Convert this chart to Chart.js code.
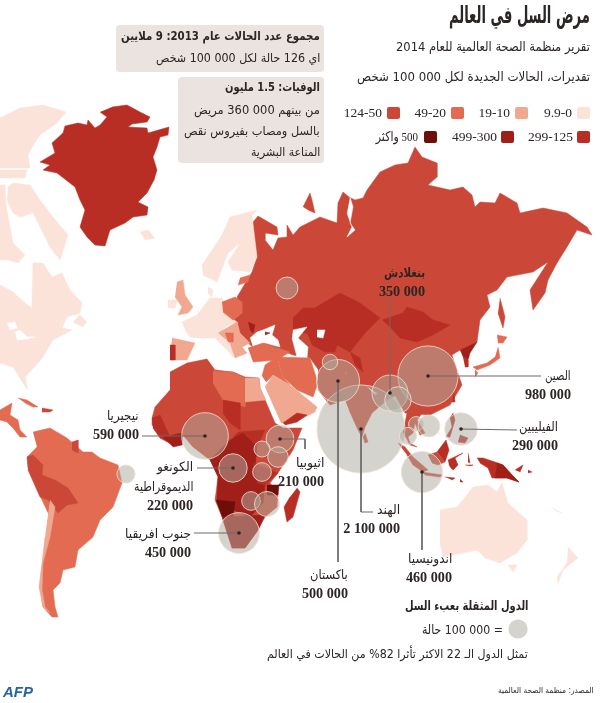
<!DOCTYPE html>
<html lang="ar">
<head>
<meta charset="utf-8">
<script src="https://cdn.jsdelivr.net/npm/chart.js@4"></script>
<style>
  html, body { margin: 0; padding: 0; background: #fff; }
  #page { position: relative; width: 600px; height: 703px; overflow: hidden; font-family: "DejaVu Sans", "Liberation Serif", sans-serif; color: #2b2523; }
  canvas { position: absolute; left: 0; top: 0; }
  .t { position: absolute; white-space: nowrap; direction: rtl; transform: translateY(-50%); transform-origin: right center; line-height: 1; }
  .num { font-family: "Liberation Serif", serif; font-weight: bold; font-size: 14.2px; }
  .box { position: absolute; background: #eae3df; border-radius: 4px; }
  .sw { position: absolute; width: 13px; height: 12px; border-radius: 2px; }
</style>
</head>
<body>
<div id="page"><canvas id="chart" width="600" height="703"></canvas></div>
<script>
// fourchettes de la légende
const c0 = '#fbe3da', c10 = '#f0a890', c20 = '#e26b52', c50 = '#cb4838', c125 = '#b92e24', c300 = '#a01f18', c500 = '#6e0e08';
const legendLabels = ['9.9-0', '19-10', '49-20', '124-50', '299-125', '499-300', '500 واكثر'];
const legendColors = [c0, c10, c20, c50, c125, c300, c500];

// pays à forte charge, cas
const bubbleNames = ['China', 'India', 'Pakistan', 'Bangladesh', 'Myanmar', 'Afghanistan', 'Cambodia', 'Vietnam', 'Thailand', 'Philippines', 'Indonesia', 'Russia', 'Brazil', 'Nigeria', 'DR Congo', 'Ethiopia', 'Uganda', 'Tanzania', 'Kenya', 'Zimbabwe', 'Mozambique', 'South Africa'];
const cases = [980000, 2100000, 500000, 350000, 190000, 65000, 60000, 130000, 80000, 290000, 460000, 130000, 90000, 590000, 220000, 210000, 70000, 95000, 115000, 95000, 170000, 450000];
const bubbleLon = [428, 361, 338, 390, 398, 330, 416, 429, 408, 461, 422, 287, 126, 205, 233, 280, 262, 262, 278, 251, 267, 239];
const bubbleLat = [376, 429, 381, 393, 400, 362, 424, 426, 436, 429, 472, 288, 474, 436, 468, 439, 449, 472, 457, 501, 504, 533];
const keyCases = [100000];
const keyLon = [518];
const keyLat = [629];

// carte, en unités de la grille
const canadaArctic = [[0,118],[20,108],[43,105],[66,112],[57,123],[40,135],[33,145],[28,155],[30,168],[0,168]];
const canadaStrip = [[0,170],[27,170],[25,178],[0,178]];
const baffin = [[8,187],[13,183],[30,185],[40,200],[53,217],[68,235],[60,260],[50,247],[43,233],[33,213],[20,217],[13,213],[7,200]];
const canadaNorth = [[0,185],[5,185],[6,205],[13,243],[25,255],[18,263],[8,260],[0,260]];
const northAmerica = [[0,285],[13,292],[25,303],[32,308],[32,297],[33,263],[43,263],[52,277],[62,273],[70,290],[82,303],[80,313],[67,317],[62,328],[72,330],[53,340],[43,357],[38,363],[25,377],[28,390],[23,383],[13,367],[0,363]];
const newfoundland = [[73,322],[80,315],[87,322],[82,327]];
const lakeA = [[7,323],[15,322],[17,328],[10,330]];
const lakeB = [[15,332],[20,330],[27,337],[35,337],[27,339],[17,340]];
const greenland = [[112,107],[127,105],[140,112],[150,117],[147,122],[132,124],[128,127],[147,128],[148,133],[169,127],[168,135],[160,137],[157,147],[153,157],[157,170],[154,180],[147,193],[138,202],[148,207],[147,215],[133,217],[125,223],[110,230],[105,246],[95,245],[87,237],[80,227],[85,210],[80,200],[75,187],[57,173],[43,170],[50,165],[40,162],[55,153],[52,143],[63,133],[65,126],[78,123],[87,125],[88,120],[95,128],[100,125],[107,117],[100,112]];
const iceland = [[140,232],[148,230],[155,238],[145,240]];
const mexico = [[0,410],[12,403],[10,415],[18,420],[20,430],[27,437],[20,437],[13,428],[7,422],[0,420]];
const cuba = [[18,398],[27,400],[38,407],[33,407],[25,403]];
const hispaniola = [[42,408],[53,410],[50,412],[42,412]];
const southAmerica = [[33,432],[50,428],[67,438],[83,452],[92,452],[100,458],[118,465],[122,483],[113,507],[100,520],[93,537],[78,550],[75,567],[63,570],[60,583],[53,590],[55,607],[58,617],[52,617],[43,607],[40,587],[42,567],[45,547],[50,517],[42,500],[28,467],[27,457],[37,447]];
const peruBolivia = [[27,457],[33,455],[43,465],[42,475],[55,480],[68,488],[78,503],[67,505],[58,513],[48,500],[40,497],[28,470]];
const guyana = [[72,442],[78,440],[78,453],[72,450]];
const chile = [[50,500],[55,507],[50,537],[43,563],[42,590],[45,607],[50,613],[43,607],[39,587],[42,563],[45,537]];
const africa = [[170,372],[187,363],[207,359],[215,370],[233,372],[245,377],[259,378],[260,388],[275,423],[283,428],[302,428],[293,450],[278,473],[270,483],[278,493],[277,507],[265,517],[258,530],[245,548],[232,548],[222,517],[215,500],[218,477],[210,460],[193,447],[182,434],[163,437],[152,425],[152,418],[155,407],[170,390]];
const libya = [[213,371],[233,372],[245,378],[245,407],[223,400],[213,383]];
const egypt = [[245,378],[259,378],[260,388],[266,400],[245,402]];
const chad = [[223,400],[240,403],[240,430],[230,423],[223,413]];
const southSudan = [[238,432],[265,430],[257,447],[233,437]];
const congoBasin = [[210,460],[230,440],[243,433],[257,447],[255,467],[265,485],[263,503],[250,517],[217,503],[218,477]];
const namibia = [[216,500],[235,502],[233,517],[222,517]];
const malawi = [[267,485],[279,485],[278,495],[267,495]];
const southernTip = [[222,517],[265,515],[258,530],[245,548],[232,548]];
const guineaCoast = [[152,418],[160,415],[170,437],[173,445],[160,438],[153,428]];
const ivoryCoast = [[163,437],[182,433],[182,445],[173,447]];
const tanzania = [[253,463],[278,473],[265,485],[257,483]];
const madagascar = [[297,488],[300,492],[293,517],[287,522],[284,507],[290,497]];
const eurasia = [[253,222],[258,216],[277,227],[278,235],[265,233],[265,240],[273,250],[278,238],[287,237],[287,225],[293,235],[300,227],[320,217],[337,223],[338,203],[343,192],[349,197],[355,200],[363,198],[367,190],[380,172],[395,165],[408,163],[415,147],[422,157],[437,163],[437,177],[428,185],[450,190],[463,187],[472,195],[475,207],[480,202],[495,203],[500,193],[517,203],[520,213],[543,208],[567,213],[587,227],[592,235],[577,230],[567,247],[557,263],[548,280],[545,293],[533,310],[530,290],[548,262],[533,272],[507,277],[497,290],[487,295],[490,307],[480,320],[477,342],[460,350],[452,355],[455,365],[462,385],[450,405],[430,415],[405,413],[395,395],[380,395],[365,385],[345,372],[320,372],[310,358],[293,355],[280,350],[253,347],[240,337],[238,325],[233,320],[242,313],[237,297],[252,272],[257,257],[252,232]];
const novayaZemlya = [[303,207],[310,193],[312,200],[315,213],[308,210]];
const obGulf = [[350,197],[353,207],[350,223],[355,230],[347,237],[352,227],[347,213]];
const sakhalin = [[500,298],[505,317],[503,328],[498,313]];
const blackSea = [[250,338],[257,332],[263,330],[275,325],[272,335],[278,340],[280,347],[265,343],[253,347]];
const caspian = [[293,330],[307,327],[298,338],[308,347],[307,358],[297,357],[292,338]];
const aral = [[317,330],[325,330],[323,338],[317,337]];
const kazakhstan = [[293,318],[303,308],[315,308],[323,303],[340,293],[360,303],[380,318],[365,333],[350,352],[337,345],[315,343],[307,333],[293,333]];
const uzbekistan = [[307,333],[315,343],[337,345],[335,352],[325,352],[312,345]];
const kyrgyz = [[350,352],[360,358],[363,372],[355,365]];
const mongolia = [[382,320],[403,313],[407,307],[423,312],[433,320],[450,325],[433,335],[417,342],[400,338],[390,327]];
const moldova = [[248,322],[255,325],[253,333],[250,330]];
const crimea = [[265,332],[270,333],[265,335]];
const northKorea = [[460,350],[477,342],[470,353],[468,360],[463,357]];
const southKorea = [[463,357],[468,360],[468,367],[465,367]];
const hokkaido = [[497,335],[507,337],[503,343],[498,343]];
const honshu = [[498,347],[500,358],[490,365],[477,370],[473,367],[487,363],[495,357]];
const kyushu = [[475,370],[478,373],[475,377]];
const taiwan = [[454,393],[455,402],[452,402]];
const turkey = [[248,348],[263,343],[290,352],[277,360],[253,362]];
const iran = [[277,357],[310,358],[318,383],[313,397],[297,390],[283,377]];
const iraq = [[262,376],[265,365],[277,357],[283,377],[290,385],[273,375],[266,382]];
const arabia = [[265,387],[273,375],[290,385],[317,407],[315,412],[293,423],[281,423]];
const yemen = [[283,423],[297,413],[307,415],[297,422],[285,425]];
const pakistan = [[318,370],[345,372],[352,392],[345,400],[330,405],[318,390]];
const india = [[349,410],[358,430],[362,437],[365,427],[372,413],[387,400],[400,393],[395,385],[375,395],[365,385],[350,370],[345,375],[352,392],[345,400]];
const sriLanka = [[365,433],[368,442],[365,443],[363,437]];
const indochina = [[405,423],[407,413],[423,412],[417,420],[425,433],[420,435],[415,423],[413,433],[408,437],[410,443],[417,447],[410,445],[403,432]];
const sumatra = [[398,443],[405,447],[413,457],[428,470],[423,472],[413,465],[407,455]];
const java = [[422,472],[442,475],[440,477],[425,475]];
const borneo = [[428,455],[437,452],[445,462],[438,465],[432,463]];
const borneoEast = [[437,452],[446,440],[449,450],[445,462]];
const sulawesi = [[448,460],[463,453],[455,458],[458,465],[453,470],[451,468],[449,465]];
const moluccas = [[468,453],[470,463],[468,462]];
const seram = [[465,465],[473,465],[470,466]];
const flores = [[445,477],[455,478],[452,480]];
const timor = [[460,479],[463,482],[460,482]];
const newGuinea = [[477,458],[483,458],[495,462],[503,465],[512,475],[519,482],[507,478],[492,478],[488,468],[480,463]];
const papua = [[497,463],[503,465],[512,475],[519,482],[507,478],[495,478]];
const newBritain = [[515,470],[523,465],[520,472]];
const solomon = [[528,470],[532,472],[528,473]];
const luzon = [[453,413],[455,420],[450,437],[446,437],[452,427],[450,417]];
const mindanao = [[460,435],[468,438],[465,443],[458,442]];
const australia = [[440,510],[457,507],[467,495],[473,487],[488,485],[497,492],[502,483],[508,503],[527,520],[527,540],[517,553],[500,563],[485,558],[477,550],[463,553],[443,557],[440,543]];
const tasmania = [[508,565],[517,565],[513,572]];
const newZealand = [[568,547],[578,558],[563,570],[558,583],[557,577],[567,563]];
const fiji = [[552,508],[562,513],[556,511]];
const scandinavia = [[202,265],[222,235],[230,217],[257,210],[252,215],[257,257],[250,272],[232,270],[228,262],[240,243],[228,253],[217,282],[203,275]];
const europe = [[182,322],[197,315],[203,307],[210,298],[222,298],[222,308],[232,318],[238,323],[228,325],[218,333],[233,347],[233,357],[227,350],[215,338],[198,338],[190,337],[185,330]];
const denmark = [[208,287],[213,290],[212,297],[208,293]];
const britain = [[177,282],[183,280],[185,295],[193,307],[188,313],[178,315],[182,307],[175,297]];
const ireland = [[168,300],[177,300],[175,308],[168,308]];
const spain = [[172,338],[195,343],[187,360],[170,360]];
const portugal = [[170,345],[175,345],[175,360],[170,360]];
const poland = [[222,302],[235,297],[242,302],[242,313],[233,320],[223,312]];
const baltics = [[240,278],[250,275],[248,282],[238,285]];
const balkans = [[218,333],[237,322],[240,333],[250,343],[242,347],[247,353],[235,358],[230,343]];
const romania = [[225,333],[233,333],[233,342],[228,342]];

const mapLayers = [
  [canadaArctic, c0], [canadaStrip, c0], [baffin, c0], [canadaNorth, c0], [northAmerica, c0], [newfoundland, c0], [lakeA, '#fff'], [lakeB, '#fff'],
  [greenland, c125], [iceland, c0], [mexico, c20], [cuba, c20], [hispaniola, c50],
  [southAmerica, c20], [peruBolivia, c50], [guyana, c50], [chile, c10],
  [africa, c50], [libya, c20], [egypt, c10], [chad, c125], [southSudan, c125], [congoBasin, c300], [namibia, c500], [malawi, c500], [southernTip, c300], [guineaCoast, c125], [ivoryCoast, c300], [tanzania, c125], [madagascar, c125],
  [eurasia, c50], [novayaZemlya, c50], [sakhalin, c50], [obGulf, '#fff'], [kazakhstan, c125], [uzbekistan, c125], [kyrgyz, c125], [mongolia, c125], [blackSea, '#fff'], [caspian, '#fff'], [aral, '#fff'], [moldova, c300], [crimea, c300],
  [northKorea, c300], [southKorea, c125], [hokkaido, c20], [honshu, c20], [kyushu, c20], [taiwan, c125],
  [turkey, c20], [iran, c20], [iraq, c20], [arabia, c10], [yemen, c125], [pakistan, c50], [india, c50], [sriLanka, c50],
  [indochina, c50], [sumatra, c50], [java, c50], [borneo, c50], [borneoEast, c125], [sulawesi, c125], [moluccas, c125], [seram, c125], [flores, c125], [timor, c125], [newGuinea, c125], [papua, c300], [newBritain, c125], [solomon, c125], [luzon, c125], [mindanao, c125],
  [australia, c0], [tasmania, c0], [newZealand, c0], [fiji, c0],
  [scandinavia, c0], [europe, c0], [denmark, c0], [britain, c10], [ireland, c0], [spain, c10], [portugal, c125], [poland, c20], [baltics, c20], [balkans, c10], [romania, c20]
];

// traits de rappel
const leaders = [
  [[361,429],[361,512],[373,512]],
  [[338,381],[338,562]],
  [[422,472],[422,550]],
  [[428,376],[541,376]],
  [[461,429],[517,430]],
  [[390,393],[390,298]],
  [[280,439],[305,439],[305,449]],
  [[205,436],[142,436]],
  [[233,468],[197,468]],
  [[239,533],[194,533]]
];

const toPoints = pts => pts.map(p => ({ x: p[0], y: p[1] }));
const bubbleRadius = n => Math.sqrt(n) * 0.0304;

const datasets = [];
mapLayers.forEach(layer => {
  datasets.push({
    type: 'scatter', showLine: true, fill: 'shape',
    data: toPoints(layer[0]),
    backgroundColor: layer[1], borderColor: layer[1], borderWidth: 0.5,
    pointRadius: 0, tension: 0
  });
});
datasets.push({
  type: 'bubble',
  data: cases.map((n, i) => ({ x: bubbleLon[i], y: bubbleLat[i], r: bubbleRadius(n) })),
  backgroundColor: 'rgba(175,170,160,0.52)', borderColor: 'rgba(245,225,210,0.8)', borderWidth: 1
});
datasets.push({
  type: 'bubble',
  data: keyCases.map((n, i) => ({ x: keyLon[i], y: keyLat[i], r: bubbleRadius(n) })),
  backgroundColor: 'rgba(175,170,160,0.52)', borderWidth: 0
});
leaders.forEach(line => {
  datasets.push({
    type: 'scatter', showLine: true, fill: false,
    data: toPoints(line),
    borderColor: '#6f6a67', borderWidth: 1,
    pointRadius: ctx => ctx.dataIndex === 0 ? 1.8 : 0,
    pointBackgroundColor: '#2b2523', pointBorderWidth: 0
  });
});
// le dernier ajouté passe au-dessus
datasets.forEach((d, i) => { d.order = datasets.length - i; });

new Chart(document.getElementById('chart'), {
  data: { datasets: datasets },
  options: {
    responsive: false,
    animation: false,
    events: [],
    layout: { padding: 0, autoPadding: false },
    plugins: { legend: { display: false }, tooltip: { enabled: false } },
    scales: {
      x: { type: 'linear', min: 0, max: 600, display: false },
      y: { type: 'linear', min: 0, max: 703, reverse: true, display: false }
    }
  }
});

// textes : la police arabe installée est plus large, on la resserre à la largeur voulue
const page = document.getElementById('page');
function addText(text, right, y, size, weight, width) {
  const el = document.createElement('div');
  el.className = 't';
  el.textContent = text;
  el.style.right = (600 - right) + 'px';
  el.style.top = y + 'px';
  el.style.fontSize = size + 'px';
  if (weight) el.style.fontWeight = weight;
  page.appendChild(el);
  if (width) el.style.transform = 'translateY(-50%) scaleX(' + (width / el.offsetWidth) + ')';
  return el;
}
function addNumber(text, right, y) {
  const el = addText(text, right, y, 14.2);
  el.className = 't num';
  return el;
}
function addBox(x, y, w, h) {
  const el = document.createElement('div');
  el.className = 'box';
  el.style.cssText = 'left:' + x + 'px;top:' + y + 'px;width:' + w + 'px;height:' + h + 'px';
  page.appendChild(el);
}

addText('مرض السل في العالم', 590, 15, 24, 'bold', 141);
addText('تقرير منظمة الصحة العالمية للعام 2014', 590, 46, 13, null, 194);
addText('تقديرات، الحالات الجديدة لكل 100\u00a0000 شخص', 590, 76, 13, null, 233);

const swatchX = [577, 515, 451, 387, 577, 501, 424];
const swatchY = [107, 107, 107, 107, 131, 131, 131];
const swatchGap = [5, 5, 5, 5, 4, 4, 6];
legendLabels.forEach((label, i) => {
  const s = document.createElement('div');
  s.className = 'sw';
  s.style.cssText = 'left:' + swatchX[i] + 'px;top:' + swatchY[i] + 'px;background:' + legendColors[i];
  page.appendChild(s);
  const el = addText(label, swatchX[i] - swatchGap[i], swatchY[i] + 6, 13.5, null, i === 6 ? 47 : null);
  el.style.fontFamily = '"Liberation Serif", "DejaVu Sans", serif';
  if (i < 6) el.style.direction = 'ltr';
});

addBox(116, 25, 208, 47);
addBox(178, 77, 146, 86);
addText('مجموع عدد الحالات عام 2013: 9 ملايين', 320, 36, 12, 'bold', 199);
addText('اي 126 حالة لكل 100\u00a0000 شخص', 320, 58, 12, null, 164);
addText('الوفيات: 1.5 مليون', 320, 87, 12, 'bold', 95);
addText('من بينهم 360\u00a0000 مريض', 320, 110, 12, null, 126);
addText('بالسل ومصاب بفيروس نقص', 320, 131, 12, null, 136);
addText('المناعة البشرية', 320, 152, 12, null, 69);

const placeNames = ['بنغلادش', 'الصين', 'الفيليبين', 'اندونيسيا', 'الهند', 'باكستان', 'اثيوبيا', 'نيجيريا', 'جنوب افريقيا'];
const placeCases = ['350\u00a0000', '980\u00a0000', '290\u00a0000', '460\u00a0000', '2\u00a0100\u00a0000', '500\u00a0000', '210\u00a0000', '590\u00a0000', '450\u00a0000'];
const placeRight = [425, 571, 558, 452, 400, 348, 324, 139, 191];
const placeY = [272, 375, 426, 558, 509, 574, 462, 415, 533];
const placeWidth = [41, 26, 39, 44, 23, 38, 28, 32, 66];
placeNames.forEach((name, i) => {
  addText(name, placeRight[i], placeY[i], 13, i === 0 ? 'bold' : null, placeWidth[i]);
  addNumber(placeCases[i], placeRight[i], placeY[i] + 18.5);
});
addText('الكونغو', 193, 466, 13, null, 36);
addText('الديموقراطية', 193, 486, 13, null, 59);
addNumber('220\u00a0000', 193, 505);

addText('الدول المثقلة بعبء السل', 528, 605, 13, 'bold', 124);
addText('= 100\u00a0000 حالة', 503, 629, 13, null, 81);
addText('تمثل الدول الـ 22 الاكثر تأثرا 82% من الحالات في العالم', 528, 654, 12, null, 261);
addText('المصدر: منظمة الصحة العالمية', 594, 691, 8, null, 96);

const afp = addText('AFP', 33, 691, 15, 'bold');
afp.style.direction = 'ltr';
afp.style.fontStyle = 'italic';
afp.style.color = '#2a62a8';
afp.style.fontFamily = '"Liberation Sans", sans-serif';
</script>
</body>
</html>
